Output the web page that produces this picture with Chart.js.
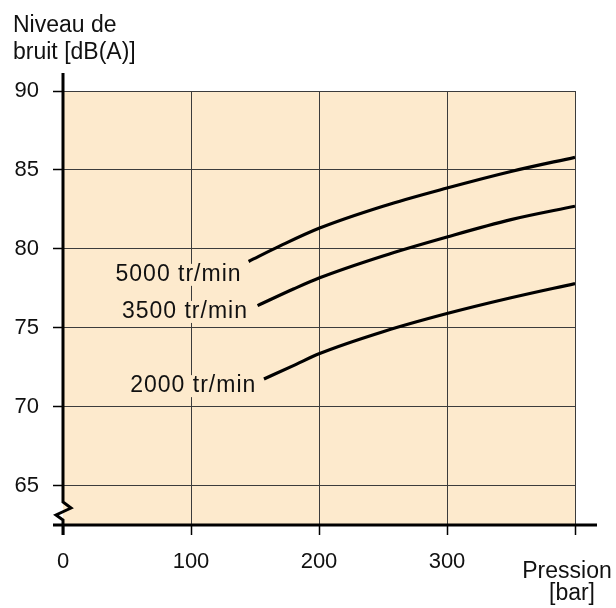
<!DOCTYPE html>
<html>
<head>
<meta charset="utf-8">
<script src="https://cdn.jsdelivr.net/npm/chart.js@4.4.1/dist/chart.umd.min.js"></script>
<style>
  html, body { margin: 0; padding: 0; background: #fff; }
</style>
</head>
<body>
<canvas id="myGraph" width="616" height="608"></canvas>
<script>
// values (pression in bar, bruit in dB(A))
var pression5000 = [145, 170, 200, 250, 300, 350, 400]
var bruit5000 = [79.2, 80.2, 81.3, 82.7, 83.85, 84.9, 85.8]

var pression3500 = [152, 180, 200, 250, 300, 350, 400]
var bruit3500 = [76.4, 77.45, 78.15, 79.55, 80.75, 81.85, 82.7]

var pression2000 = [157, 180, 200, 250, 300, 350, 400]
var bruit2000 = [71.75, 72.6, 73.35, 74.75, 75.9, 76.9, 77.8]

var xTicks = [0, 100, 200, 300, 400]
var yTicks = [65, 70, 75, 80, 85, 90]

var curveNames = ['5000 tr/min', '3500 tr/min', '2000 tr/min']
// where each curve name ends (right side), in chart units
var nameX = [139.5, 144.5, 151]
var nameY = [78.35, 76.0, 71.3]

var plotBg = '#fdeacd'
var font = '"Liberation Sans", Arial, sans-serif'

function points(xs, ys) {
    var out = []
    for (var i = 0; i < xs.length; i++) out.push({ x: xs[i], y: ys[i] })
    return out
}

var decor = {
    id: 'decor',
    beforeDraw: function (chart) {
        var a = chart.chartArea, ctx = chart.ctx
        ctx.save()
        ctx.fillStyle = plotBg
        ctx.fillRect(a.left, a.top, a.right - a.left, a.bottom - a.top)
        ctx.restore()
    },
    afterDraw: function (chart) {
        var a = chart.chartArea, ctx = chart.ctx
        var xs = chart.scales.x, ys = chart.scales.y
        ctx.save()

        // curve names, with a patch of plot colour behind them
        ctx.font = '23px ' + font
        ctx.letterSpacing = '1px'
        ctx.textAlign = 'right'
        ctx.textBaseline = 'middle'
        for (var i = 0; i < curveNames.length; i++) {
            var px = xs.getPixelForValue(nameX[i])
            var py = ys.getPixelForValue(nameY[i])
            var w = ctx.measureText(curveNames[i]).width
            ctx.fillStyle = plotBg
            ctx.fillRect(px - w - 2, py - 11, w + 3, 22)
            ctx.fillStyle = '#111'
            ctx.fillText(curveNames[i], px, py)
        }
        ctx.letterSpacing = '0px'

        // axes
        var x0 = Math.round(a.left), yb = Math.round(a.bottom)
        ctx.strokeStyle = '#000'
        ctx.lineWidth = 3
        ctx.lineJoin = 'miter'
        ctx.beginPath()
        ctx.moveTo(53, yb)
        ctx.lineTo(597, yb)
        ctx.stroke()

        ctx.beginPath()
        ctx.moveTo(x0, a.top - 18)
        ctx.lineTo(x0, yb - 23)
        ctx.lineTo(x0 + 8, yb - 17)
        ctx.lineTo(x0 - 7, yb - 10)
        ctx.lineTo(x0, yb - 5)
        ctx.lineTo(x0, yb + 10)
        ctx.stroke()

        // titles
        ctx.fillStyle = '#111'
        ctx.font = '23px ' + font
        ctx.textAlign = 'left'
        ctx.textBaseline = 'alphabetic'
        ctx.fillText('Niveau de', 13, 32)
        ctx.fillText('bruit [dB(A)]', 13, 59)

        ctx.textAlign = 'center'
        ctx.fillText('Pression', 567, 578)
        ctx.fillText('[bar]', 572, 600)
        ctx.restore()
    }
}

var ctx = document.getElementById('myGraph')

var myChart = new Chart(ctx, {
    type: 'scatter',
    data: {
        datasets: [
            { label: curveNames[0], data: points(pression5000, bruit5000) },
            { label: curveNames[1], data: points(pression3500, bruit3500) },
            { label: curveNames[2], data: points(pression2000, bruit2000) }
        ]
    },
    options: {
        responsive: false,
        animation: false,
        showLine: true,
        elements: {
            point: { radius: 0, hoverRadius: 0 },
            line: { borderColor: '#000', borderWidth: 3.2, cubicInterpolationMode: 'monotone', fill: false, borderCapStyle: 'butt' }
        },
        layout: { padding: { left: 0, top: 91, right: 41, bottom: 0 } },
        plugins: {
            legend: { display: false },
            tooltip: { enabled: false }
        },
        scales: {
            x: {
                type: 'linear',
                min: 0,
                max: 400,
                afterBuildTicks: function (scale) {
                    scale.ticks = xTicks.map(function (v) { return { value: v } })
                },
                afterFit: function (scale) { scale.height = 83 },
                border: { display: false },
                grid: {
                    color: function (c) { return c.tick && c.tick.value === 0 ? 'rgba(0,0,0,0)' : '#3c3c3c' },
                    lineWidth: 1,
                    tickLength: 10,
                    tickColor: '#000',
                    tickWidth: 1.5
                },
                ticks: {
                    padding: 14,
                    color: '#111',
                    font: { family: font, size: 22 },
                    maxRotation: 0,
                    callback: function (v) { return v === 400 ? '' : v }
                }
            },
            y: {
                min: 62.5,
                max: 90,
                afterBuildTicks: function (scale) {
                    scale.ticks = yTicks.map(function (v) { return { value: v } })
                },
                afterFit: function (scale) { scale.width = 63 },
                border: { display: false },
                grid: {
                    color: '#3c3c3c',
                    lineWidth: 1,
                    tickLength: 10,
                    tickColor: '#000',
                    tickWidth: 1.5
                },
                ticks: {
                    padding: 14,
                    color: '#111',
                    font: { family: font, size: 22 }
                }
            }
        }
    },
    plugins: [decor]
});
</script>
</body>
</html>
